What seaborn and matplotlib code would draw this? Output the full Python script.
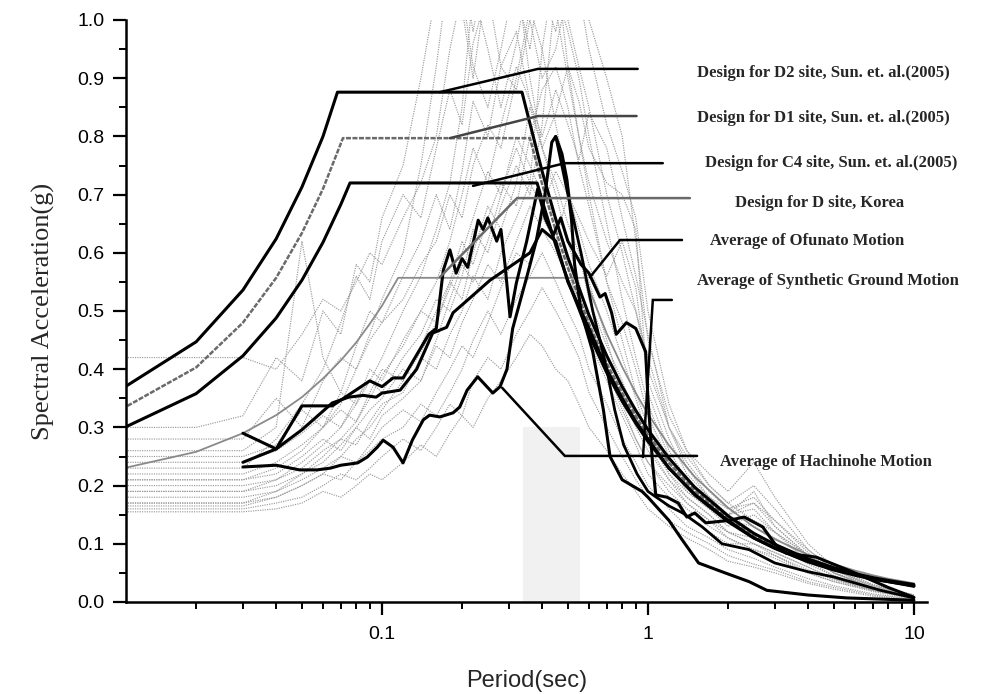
import matplotlib
matplotlib.use("Agg")
import matplotlib.pyplot as plt
from matplotlib.ticker import FixedLocator, FixedFormatter, LogLocator, NullFormatter, MultipleLocator
import pandas as pd
import seaborn as sns

sns.set_style("ticks")
plt.rcParams["font.family"] = ["Liberation Sans", "DejaVu Sans"]

# ---------------- design spectra ----------------
d2_period = [0.01, 0.02, 0.03, 0.04, 0.05, 0.06, 0.068, 0.336, 0.36, 0.4, 0.45, 0.5, 0.6, 0.7, 0.8, 0.9,
             1.0, 1.2, 1.5, 2.0, 2.5, 3.0, 4.0, 5.0, 6.0, 7.0, 8.0, 10.0]
d2_sa = [0.36, 0.447, 0.536, 0.624, 0.713, 0.80, 0.876, 0.876, 0.822, 0.74, 0.658, 0.592, 0.493, 0.423, 0.37, 0.329,
         0.296, 0.247, 0.197, 0.148, 0.118, 0.099, 0.074, 0.059, 0.049, 0.042, 0.037, 0.030]

d1_period = [0.01, 0.02, 0.03, 0.04, 0.05, 0.06, 0.0713, 0.36, 0.4, 0.45, 0.5, 0.6, 0.7, 0.8, 0.9,
             1.0, 1.2, 1.5, 2.0, 2.5, 3.0, 4.0, 5.0, 6.0, 7.0, 8.0, 10.0]
d1_sa = [0.326, 0.403, 0.48, 0.557, 0.634, 0.71, 0.797, 0.797, 0.718, 0.638, 0.574, 0.478, 0.41, 0.359, 0.319,
         0.287, 0.239, 0.191, 0.144, 0.115, 0.096, 0.072, 0.057, 0.048, 0.041, 0.036, 0.029]

c4_period = [0.01, 0.02, 0.03, 0.04, 0.05, 0.06, 0.07, 0.0758, 0.383, 0.4, 0.45, 0.5, 0.6, 0.7, 0.8, 0.9,
             1.0, 1.2, 1.5, 2.0, 2.5, 3.0, 4.0, 5.0, 6.0, 7.0, 8.0, 10.0]
c4_sa = [0.293, 0.358, 0.423, 0.488, 0.553, 0.618, 0.683, 0.72, 0.72, 0.69, 0.613, 0.552, 0.46, 0.394, 0.345, 0.307,
         0.276, 0.23, 0.184, 0.138, 0.11, 0.092, 0.069, 0.055, 0.046, 0.039, 0.035, 0.028]

kd_period = [0.01, 0.02, 0.03, 0.04, 0.05, 0.06, 0.07, 0.08, 0.09, 0.10, 0.115, 0.58, 0.6, 0.7, 0.8, 0.9,
             1.0, 1.2, 1.5, 2.0, 2.5, 3.0, 4.0, 5.0, 6.0, 7.0, 8.0, 10.0]
kd_sa = [0.227, 0.258, 0.29, 0.321, 0.352, 0.384, 0.415, 0.446, 0.478, 0.509, 0.557, 0.557, 0.538, 0.461, 0.404, 0.359,
         0.323, 0.269, 0.215, 0.162, 0.129, 0.108, 0.081, 0.065, 0.054, 0.046, 0.040, 0.032]

# ---------------- average spectra ----------------
ofu_period = [0.03, 0.04, 0.05, 0.065, 0.09, 0.10, 0.11, 0.12, 0.15, 0.16, 0.17, 0.18, 0.19, 0.20, 0.21, 0.23,
              0.24, 0.25, 0.27, 0.28, 0.29, 0.303, 0.32, 0.35, 0.385, 0.41, 0.44, 0.47, 0.50, 0.53, 0.56, 0.60,
              0.66, 0.69, 0.73, 0.76, 0.83, 0.90, 0.98, 1.0, 1.04, 1.07, 1.18, 1.30, 1.40, 1.50, 1.65, 2.0,
              2.3, 2.7, 3.0, 3.3, 4.3, 6.0, 8.0, 10.0]
ofu_sa = [0.29, 0.263, 0.337, 0.337, 0.38, 0.37, 0.385, 0.385, 0.46, 0.47, 0.57, 0.605, 0.565, 0.59, 0.575, 0.656,
          0.64, 0.66, 0.62, 0.64, 0.58, 0.49, 0.548, 0.62, 0.71, 0.66, 0.63, 0.66, 0.62, 0.60, 0.58, 0.565,
          0.524, 0.53, 0.497, 0.46, 0.48, 0.47, 0.43, 0.35, 0.24, 0.184, 0.18, 0.17, 0.146, 0.153, 0.136, 0.14,
          0.146, 0.129, 0.10, 0.084, 0.077, 0.05, 0.025, 0.008]

syn_period = [0.03, 0.04, 0.05, 0.065, 0.075, 0.085, 0.095, 0.10, 0.117, 0.135, 0.155, 0.175, 0.185, 0.21,
              0.255, 0.30, 0.36, 0.40, 0.45, 0.50, 0.60, 0.70, 0.80, 0.90, 1.0, 1.2, 1.5, 2.0, 2.5, 3.0, 4.0,
              5.0, 7.0, 10.0]
syn_sa = [0.24, 0.263, 0.296, 0.342, 0.352, 0.355, 0.352, 0.359, 0.364, 0.40, 0.462, 0.472, 0.497, 0.519,
          0.553, 0.575, 0.60, 0.64, 0.62, 0.55, 0.47, 0.40, 0.35, 0.31, 0.28, 0.23, 0.185, 0.14, 0.11, 0.093,
          0.07, 0.056, 0.04, 0.027]

hac_period = [0.03, 0.04, 0.049, 0.057, 0.064, 0.070, 0.081, 0.088, 0.096, 0.101, 0.110, 0.120, 0.130, 0.143,
              0.151, 0.165, 0.185, 0.196, 0.209, 0.229, 0.261, 0.278, 0.295, 0.31, 0.35, 0.38, 0.41, 0.435,
              0.45, 0.475, 0.496, 0.516, 0.53, 0.56, 0.62, 0.68, 0.72, 0.80, 0.95, 1.0, 1.2, 1.33, 1.55, 1.95,
              2.4, 2.8, 4.0, 5.6, 10.0]
hac_sa = [0.232, 0.235, 0.227, 0.227, 0.23, 0.235, 0.239, 0.249, 0.266, 0.278, 0.266, 0.239, 0.278, 0.313,
          0.321, 0.318, 0.325, 0.335, 0.364, 0.387, 0.359, 0.37, 0.40, 0.47, 0.558, 0.62, 0.70, 0.79,
          0.80, 0.77, 0.725, 0.656, 0.58, 0.50, 0.43, 0.33, 0.25, 0.21, 0.19, 0.18, 0.14, 0.11, 0.067, 0.05,
          0.035, 0.02, 0.012, 0.007, 0.003]

rec_period = [0.45, 0.50, 0.56, 0.62, 0.66, 0.70, 0.75, 0.81, 0.91, 1.0, 1.2, 1.35, 1.6, 1.9, 2.4, 3.0,
              4.0, 5.0, 7.5, 10.0]
rec_sa = [0.80, 0.70, 0.60, 0.50, 0.45, 0.40, 0.33, 0.27, 0.22, 0.19, 0.165, 0.153, 0.129, 0.10, 0.09, 0.067,
          0.052, 0.043, 0.02, 0.007]

# ---------------- individual synthetic motions ----------------
syn_grid = [0.01, 0.02, 0.03, 0.04, 0.05, 0.06, 0.07, 0.08, 0.09, 0.10, 0.12, 0.14, 0.16, 0.18, 0.20, 0.22,
            0.25, 0.28, 0.32, 0.36, 0.40, 0.45, 0.50, 0.55, 0.60, 0.70, 0.80, 0.90, 1.0, 1.2, 1.4, 1.7, 2.0,
            2.5, 3.0, 4.0, 5.0, 7.0, 10.0]
g01 = [0.42, 0.42, 0.42, 0.40, 0.46, 0.52, 0.50, 0.55, 0.60, 0.58, 0.66, 0.72, 0.80, 0.95, 1.05, 0.92, 0.85, 0.95,
       1.08, 0.90, 0.78, 0.70, 0.62, 0.55, 0.48, 0.40, 0.33, 0.28, 0.24, 0.20, 0.17, 0.14, 0.11, 0.09, 0.08, 0.05,
       0.035, 0.02, 0.01]
g02 = [0.28, 0.28, 0.28, 0.35, 0.30, 0.38, 0.42, 0.40, 0.45, 0.48, 0.52, 0.58, 0.62, 0.70, 0.66, 0.75, 0.82, 0.78,
       0.90, 1.02, 0.95, 0.82, 0.72, 0.62, 0.55, 0.45, 0.36, 0.30, 0.26, 0.21, 0.18, 0.15, 0.12, 0.10, 0.085, 0.06,
       0.04, 0.02, 0.008]
g03 = [0.25, 0.25, 0.25, 0.27, 0.33, 0.30, 0.36, 0.34, 0.40, 0.38, 0.45, 0.50, 0.48, 0.55, 0.62, 0.58, 0.66, 0.72,
       0.68, 0.80, 0.88, 0.92, 0.85, 0.75, 0.68, 0.55, 0.45, 0.36, 0.30, 0.22, 0.19, 0.16, 0.14, 0.13, 0.11, 0.075,
       0.05, 0.025, 0.01]
g04 = [0.24, 0.24, 0.24, 0.26, 0.29, 0.32, 0.30, 0.35, 0.38, 0.36, 0.42, 0.46, 0.52, 0.50, 0.56, 0.64, 0.60, 0.68,
       0.75, 0.70, 0.82, 1.05, 0.98, 0.90, 0.80, 0.65, 0.52, 0.42, 0.34, 0.25, 0.20, 0.17, 0.15, 0.16, 0.12, 0.08,
       0.05, 0.028, 0.012]
g05 = [0.22, 0.22, 0.22, 0.24, 0.27, 0.30, 0.33, 0.31, 0.36, 0.40, 0.38, 0.44, 0.50, 0.55, 0.52, 0.60, 0.68, 0.64,
       0.72, 0.85, 0.78, 0.72, 0.65, 0.60, 0.52, 0.44, 0.38, 0.32, 0.27, 0.21, 0.17, 0.14, 0.12, 0.11, 0.095, 0.065,
       0.045, 0.022, 0.008]
g06 = [0.21, 0.21, 0.21, 0.22, 0.25, 0.28, 0.26, 0.30, 0.33, 0.35, 0.40, 0.38, 0.45, 0.52, 0.58, 0.55, 0.62, 0.70,
       0.80, 0.75, 0.70, 0.66, 0.58, 0.50, 0.45, 0.38, 0.32, 0.27, 0.22, 0.18, 0.15, 0.12, 0.10, 0.10, 0.085, 0.06,
       0.04, 0.02, 0.006]
g07 = [0.20, 0.20, 0.20, 0.21, 0.23, 0.26, 0.28, 0.27, 0.31, 0.34, 0.36, 0.42, 0.40, 0.46, 0.50, 0.56, 0.52, 0.60,
       0.66, 0.72, 0.95, 1.10, 0.92, 0.80, 0.70, 0.55, 0.48, 0.40, 0.32, 0.24, 0.19, 0.16, 0.13, 0.15, 0.12, 0.07,
       0.045, 0.022, 0.009]
g08 = [0.19, 0.19, 0.19, 0.20, 0.22, 0.24, 0.27, 0.30, 0.28, 0.32, 0.35, 0.38, 0.44, 0.42, 0.48, 0.52, 0.58, 0.55,
       0.62, 0.68, 0.64, 0.60, 0.56, 0.52, 0.46, 0.40, 0.34, 0.28, 0.24, 0.19, 0.16, 0.13, 0.11, 0.09, 0.075, 0.05,
       0.035, 0.018, 0.006]
g09 = [0.18, 0.18, 0.18, 0.19, 0.21, 0.23, 0.25, 0.24, 0.27, 0.30, 0.33, 0.31, 0.36, 0.40, 0.44, 0.42, 0.48, 0.54,
       0.60, 0.58, 0.66, 0.62, 0.70, 0.64, 0.58, 0.50, 0.42, 0.35, 0.28, 0.22, 0.18, 0.15, 0.12, 0.10, 0.08, 0.055,
       0.038, 0.02, 0.007]
g10 = [0.17, 0.17, 0.17, 0.18, 0.20, 0.22, 0.21, 0.24, 0.26, 0.28, 0.30, 0.34, 0.32, 0.36, 0.40, 0.45, 0.50, 0.46,
       0.52, 0.56, 0.60, 0.55, 0.50, 0.46, 0.40, 0.34, 0.28, 0.24, 0.20, 0.16, 0.13, 0.11, 0.09, 0.075, 0.06, 0.04,
       0.028, 0.014, 0.005]
g11 = [0.16, 0.16, 0.16, 0.17, 0.18, 0.20, 0.22, 0.21, 0.23, 0.25, 0.28, 0.26, 0.30, 0.34, 0.32, 0.38, 0.42, 0.40,
       0.46, 0.50, 0.54, 0.50, 0.46, 0.42, 0.36, 0.30, 0.25, 0.21, 0.18, 0.14, 0.12, 0.10, 0.08, 0.065, 0.055, 0.035,
       0.025, 0.012, 0.004]
g12 = [0.155, 0.155, 0.155, 0.16, 0.17, 0.19, 0.18, 0.20, 0.22, 0.21, 0.24, 0.27, 0.25, 0.29, 0.32, 0.30, 0.35,
       0.38, 0.42, 0.46, 0.44, 0.40, 0.38, 0.34, 0.30, 0.26, 0.22, 0.19, 0.16, 0.13, 0.11, 0.09, 0.07, 0.06, 0.05,
       0.032, 0.022, 0.01, 0.003]
g13 = [0.30, 0.30, 0.32, 0.42, 0.38, 0.50, 0.46, 0.58, 0.55, 0.66, 0.75, 0.90, 1.05, 1.15, 1.10, 0.98, 1.12, 1.20,
       1.05, 0.95, 1.10, 1.15, 1.00, 0.92, 0.85, 0.70, 0.60, 0.50, 0.40, 0.30, 0.25, 0.20, 0.17, 0.14, 0.12, 0.08,
       0.055, 0.03, 0.012]
g14 = [0.23, 0.23, 0.23, 0.28, 0.34, 0.40, 0.48, 0.56, 0.52, 0.62, 0.70, 0.66, 0.78, 0.88, 0.82, 0.96, 1.05, 0.92,
       0.88, 1.00, 0.90, 0.95, 1.05, 1.10, 1.00, 0.90, 0.80, 0.62, 0.45, 0.32, 0.26, 0.22, 0.19, 0.24, 0.18, 0.10,
       0.06, 0.03, 0.012]
g15 = [0.26, 0.26, 0.26, 0.30, 0.62, 0.42, 0.36, 0.44, 0.50, 0.48, 0.56, 0.62, 0.70, 0.64, 0.74, 0.86, 0.80, 0.92,
       0.98, 0.86, 0.78, 0.84, 0.92, 0.86, 0.78, 0.72, 0.70, 0.64, 0.36, 0.26, 0.21, 0.18, 0.16, 0.18, 0.14, 0.09,
       0.055, 0.028, 0.01]
g16 = [0.21, 0.21, 0.21, 0.23, 0.26, 0.30, 0.34, 0.40, 0.46, 0.52, 0.60, 0.75, 0.92, 1.10, 1.02, 0.90, 1.08, 1.15,
       1.02, 1.12, 1.05, 0.98, 1.10, 1.05, 0.95, 0.82, 0.74, 0.66, 0.50, 0.34, 0.26, 0.20, 0.17, 0.20, 0.16, 0.09,
       0.055, 0.026, 0.01]
g17 = [0.19, 0.19, 0.19, 0.21, 0.24, 0.27, 0.30, 0.34, 0.38, 0.42, 0.50, 0.56, 0.64, 0.72, 0.85, 1.05, 0.95, 0.85,
       0.96, 1.08, 1.15, 1.02, 0.90, 0.80, 0.72, 0.62, 0.55, 0.50, 0.42, 0.30, 0.24, 0.19, 0.16, 0.17, 0.14, 0.085,
       0.05, 0.024, 0.009]
g18 = [0.17, 0.17, 0.17, 0.19, 0.22, 0.25, 0.28, 0.31, 0.35, 0.39, 0.44, 0.50, 0.55, 0.62, 0.70, 0.78, 0.72, 0.82,
       0.92, 0.86, 0.80, 0.88, 0.82, 0.76, 0.84, 0.78, 0.66, 0.56, 0.46, 0.30, 0.23, 0.18, 0.15, 0.19, 0.13, 0.08,
       0.05, 0.022, 0.008]
g19 = [0.165, 0.165, 0.165, 0.18, 0.20, 0.22, 0.25, 0.28, 0.30, 0.33, 0.38, 0.43, 0.48, 0.54, 0.60, 0.66, 0.74,
       0.70, 0.78, 0.72, 0.68, 0.74, 0.70, 0.66, 0.62, 0.56, 0.62, 0.54, 0.38, 0.28, 0.22, 0.18, 0.15, 0.17, 0.13,
       0.08, 0.05, 0.024, 0.009]
motions = [g01, g02, g03, g04, g05, g06, g07, g08, g09, g10, g11, g12, g13, g14, g15, g16, g17, g18, g19]

# period band where several synthetic records drop out to zero
dropout_period = [0.34, 0.555]
dropout_sa = [0.30, 0.30]

grey_df = pd.concat(
    [pd.DataFrame({"period": syn_grid, "sa": vals, "motion": i}) for i, vals in enumerate(motions)],
    ignore_index=True,
)

fig = plt.figure(figsize=(9.94, 6.94), dpi=100)
ax = fig.add_axes([126 / 994, 92 / 694, 801 / 994, 582 / 694])

ax.fill_between(dropout_period, 0, dropout_sa, facecolor="#f1f1f1", edgecolor="#d2d2d2",
                hatch="::::", linewidth=0)
sns.lineplot(data=grey_df, x="period", y="sa", units="motion", estimator=None, sort=False,
             color="#9c9c9c", linewidth=0.85, linestyle=(0, (1, 1)), ax=ax, legend=False)


def curve(periods, values, **kw):
    sns.lineplot(x=periods, y=values, sort=False, estimator=None, ax=ax, legend=False, **kw)


curve(kd_period, kd_sa, color="#8a8a8a", linewidth=1.3)
curve(d1_period, d1_sa, color="#6a6a6a", linewidth=1.8, linestyle=(0, (2, 0.6)))
curve(d2_period, d2_sa, color="black", linewidth=2.2)
curve(c4_period, c4_sa, color="black", linewidth=2.2)
curve(rec_period, rec_sa, color="black", linewidth=2.0)
curve(hac_period, hac_sa, color="black", linewidth=2.2)
curve(syn_period, syn_sa, color="black", linewidth=2.2)
curve(ofu_period, ofu_sa, color="black", linewidth=2.2)

# leader lines and annotation texts
label_font = dict(family=["Liberation Serif", "DejaVu Serif"], fontweight="bold", fontsize=12, va="center")
leaders = [
    ([0.165, 0.386, 0.915], [0.876, 0.916, 0.916], "black", (1.53, 0.909), "Design for D2 site, Sun. et. al.(2005)"),
    ([0.180, 0.386, 0.906], [0.797, 0.835, 0.835], "#444444", (1.53, 0.832), "Design for D1 site, Sun. et. al.(2005)"),
    ([0.220, 0.487, 1.137], [0.715, 0.754, 0.754], "black", (1.64, 0.754), "Design for C4 site, Sun. et. al.(2005)"),
    ([0.165, 0.322, 1.438], [0.558, 0.694, 0.694], "#6a6a6a", (2.12, 0.686), "Design for D site, Korea"),
    ([0.605, 0.785, 1.343], [0.558, 0.622, 0.622], "black", (1.71, 0.620), "Average of Ofunato Motion"),
    ([0.958, 1.043, 1.23], [0.249, 0.519, 0.519], "black", (1.53, 0.552), "Average of Synthetic Ground Motion"),
    ([0.283, 0.487, 1.53], [0.368, 0.251, 0.251], "black", (1.86, 0.241), "Average of Hachinohe Motion"),
]
for xs, ys, col, (tx, ty), txt in leaders:
    ax.plot(xs, ys, color=col, linewidth=1.8, solid_joinstyle="miter")
    ax.text(tx, ty, txt, clip_on=False, **label_font)

ax.set_xscale("log")
ax.set_xlim(0.0109, 11.2)
ax.set_ylim(0.0, 1.0)

ax.xaxis.set_major_locator(FixedLocator([0.1, 1, 10]))
ax.xaxis.set_major_formatter(FixedFormatter(["0.1", "1", "10"]))
ax.xaxis.set_minor_locator(LogLocator(base=10, subs=range(2, 10)))
ax.xaxis.set_minor_formatter(NullFormatter())
ax.yaxis.set_major_locator(MultipleLocator(0.1))
ax.yaxis.set_minor_locator(MultipleLocator(0.05))
ax.yaxis.set_major_formatter(matplotlib.ticker.FormatStrFormatter("%.1f"))

ax.tick_params(which="major", direction="out", length=9.5, width=1.6, labelsize=14, pad=6, colors="black")
ax.tick_params(which="minor", direction="out", length=5, width=1.4, colors="black")
ax.tick_params(axis="x", which="major", pad=8)

for side in ("top", "right"):
    ax.spines[side].set_visible(False)
for side in ("left", "bottom"):
    ax.spines[side].set_linewidth(1.8)
    ax.spines[side].set_color("black")

ax.set_xlabel("Period(sec)", fontsize=17, labelpad=19)
ax.set_ylabel("Spectral Acceleration(g)", fontsize=19, labelpad=16,
              family=["Liberation Serif", "DejaVu Serif"])

fig.savefig("out.png", dpi=100, facecolor="white")
